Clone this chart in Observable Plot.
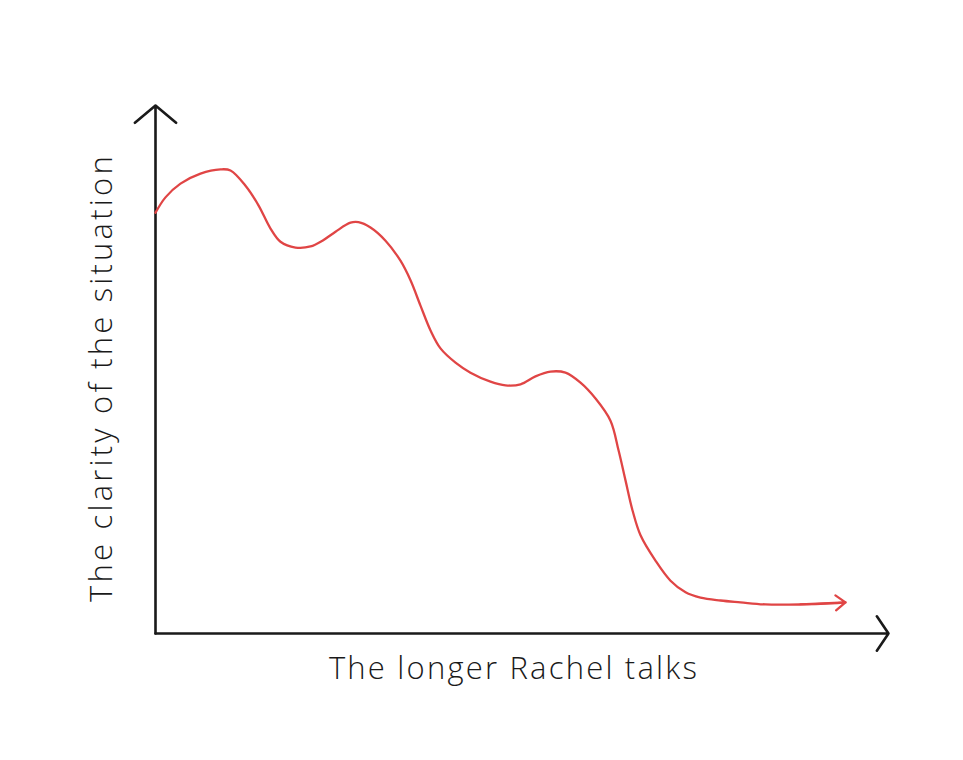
<!DOCTYPE html>
<html>
<head>
<meta charset="utf-8">
<script src="https://cdn.jsdelivr.net/npm/d3@7"></script>
<script src="https://cdn.jsdelivr.net/npm/@observablehq/plot@0.6"></script>
<style>
  html, body { margin: 0; padding: 0; background: #fff; }
  #chart svg { display: block; }
</style>
</head>
<body>
<div id="chart"></div>
<script>
// Time (share of how long Rachel talks, 0–100)
const talkTime = [0, 1.36, 3.41, 6.14, 8.87, 10.23, 12.28, 14.05, 15.69, 17.05, 19.10, 21.15, 22.78, 24.56, 26.60, 27.69, 29.33, 31.38, 33.42, 34.79, 36.15, 37.52, 38.88, 40.93, 42.97, 45.70, 47.75, 49.80, 51.84, 53.89, 55.93, 57.98, 60.03, 62.07, 63.17, 64.12, 65.08, 66.17, 68.21, 70.26, 72.31, 74.35, 77.08, 79.81, 83.22, 88.0, 92.09, 94.13];
// Clarity of the situation (0–100)
const clarity = [79.7, 82.6, 85.2, 87.1, 87.9, 87.7, 84.8, 81.1, 76.7, 74.2, 73.1, 73.3, 74.4, 76.1, 77.8, 77.9, 76.9, 74.4, 70.6, 66.9, 62.1, 57.4, 54.0, 51.3, 49.4, 47.7, 47.0, 47.2, 48.7, 49.6, 49.4, 47.5, 44.5, 40.3, 34.7, 29.0, 23.3, 18.6, 13.8, 10.0, 7.8, 6.8, 6.25, 5.9, 5.5, 5.5, 5.7, 5.9];

const xLabel = "The longer Rachel talks";
const yLabel = "The clarity of the situation";

const curve = talkTime.map((t, i) => ({t, c: clarity[i]}));
const n = curve.length;
const tip = [{x1: curve[n - 3].t, y1: curve[n - 3].c, x2: curve[n - 1].t, y2: curve[n - 1].c}];
const yAxisLine = [{x1: 0, y1: 0, x2: 0, y2: 100}];
const xAxisLine = [{x1: 0, y1: 0, x2: 100, y2: 0}];

const font = "'Open Sans', Lato, sans-serif";

const chart = Plot.plot({
  width: 963,
  height: 760,
  marginLeft: 155,
  marginRight: 75,
  marginTop: 105,
  marginBottom: 127,
  x: {domain: [0, 100], axis: null},
  y: {domain: [0, 100], axis: null},
  style: {background: "#fff", fontFamily: font},
  marks: [
    Plot.arrow(yAxisLine, {x1: "x1", y1: "y1", x2: "x2", y2: "y2", stroke: "#1a1a1a", strokeWidth: 2.6, headLength: 15.5, headAngle: 100}),
    Plot.arrow(xAxisLine, {x1: "x1", y1: "y1", x2: "x2", y2: "y2", stroke: "#1a1a1a", strokeWidth: 2.6, headLength: 12, headAngle: 112}),
    Plot.line(curve, {x: "t", y: "c", stroke: "#e04545", strokeWidth: 2.3, curve: "catmull-rom"}),
    Plot.arrow(tip, {x1: "x1", y1: "y1", x2: "x2", y2: "y2", stroke: "#e04545", strokeWidth: 2.3, headLength: 8, headAngle: 75}),
    Plot.text([xLabel], {text: d => d, frameAnchor: "bottom", dy: 45, dx: -8, fontSize: 31, fontWeight: 300, fill: "#1a1a1a"}),
    Plot.text([yLabel], {text: d => d, frameAnchor: "left", textAnchor: "middle", rotate: -90, dx: -53, dy: 8, fontSize: 31, fontWeight: 300, fill: "#1a1a1a"})
  ]
});
const texts = chart.querySelectorAll("text");
texts.forEach(t => {
  t.style.letterSpacing = t.textContent === yLabel ? "3.2px" : "2.2px";
});
document.getElementById("chart").appendChild(chart);
</script>
</body>
</html>
